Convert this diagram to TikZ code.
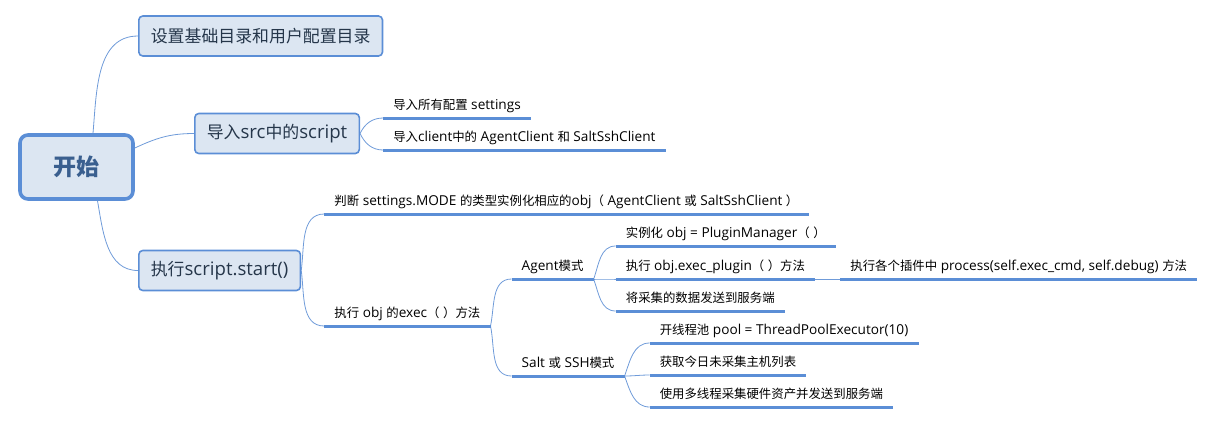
\documentclass[tikz,border=0pt]{standalone}
\usepackage{fontspec}
\setmainfont[Scale=1.1]{Open Sans}
\newfontfamily\cjkfam{Noto Sans CJK SC}
\XeTeXinterchartokenstate=1
\newXeTeXintercharclass\cjkclass
\def\markcjk#1{\ifx#1\relax\else\XeTeXcharclass`#1=\cjkclass\expandafter\markcjk\fi}
\markcjk 开始设置基础目录和用户配置导入中的执行判断类型实例化相应或所有模式将采集数据发送到服务端各个插件方法线程池获取今日未主机列表使多硬件资产并（）\relax
\XeTeXinterchartoks 0 \cjkclass = {\cjkfam}
\XeTeXinterchartoks 4095 \cjkclass = {\cjkfam}
\XeTeXinterchartoks \cjkclass 0 = {\rmfamily}
\XeTeXinterchartoks \cjkclass 4095 = {\rmfamily}
\RequirePackage{xcolor}
\definecolor{boxfill}{HTML}{DCE6F2}
\definecolor{boxline}{HTML}{5B8ED6}
\definecolor{linkline}{HTML}{6F9BD9}
\definecolor{roottext}{HTML}{3A5F8F}
\definecolor{boxtext}{HTML}{25364A}
\tikzset{
	topic/.style={draw=boxline, line width=1.6pt, fill=boxfill, rounded corners=4pt,
		minimum height=40pt, inner xsep=12pt, text=boxtext,
		font=\fontsize{16.9}{20}\selectfont, anchor=west},
	root/.style={topic, line width=3.6pt, rounded corners=8pt, minimum width=113pt,
		minimum height=64pt, text=roottext, font=\fontsize{23}{26}\selectfont\bfseries,
		anchor=center},
	leaf/.style={anchor=south west, inner xsep=10pt, inner ysep=4.5pt,
		text height=9.5pt, text depth=3.5pt, font=\fontsize{12.4}{14}\selectfont},
	link/.style={draw=linkline, line width=0.8pt},
	uline/.style={draw=boxline, line width=3pt}
}
\begin{document}
\begin{tikzpicture}[x=1pt, y=1pt]
	\useasboundingbox (0,0) rectangle (1222,-424);
	\node[root] (root) at (76.5,-167) {开始};
	\node[topic] (s1) at (138,-36) {设置基础目录和用户配置目录};
	\node[topic] (s2) at (194,-133.5) {导入src中的script};
	\node[topic] (s3) at (138,-270.5) {执行script.start()};

	\node[leaf] (src1) at ([shift={(23,15.5)}]s2.east) {导入所有配置 settings};
	\node[leaf] (src2) at ([shift={(23,-16.5)}]s2.east) {导入client中的 AgentClient 和 SaltSshClient};

	\node[leaf] (judge) at ([shift={(23,56.5)}]s3.east)
		{判断 settings.MODE 的类型实例化相应的obj（ AgentClient 或 SaltSshClient ）};
	\node[leaf] (exec) at ([shift={(23,-55.5)}]s3.east) {执行 obj 的exec（ ）方法};

	\node[leaf] (agent) at ([shift={(21,47)}]exec.south east) {Agent模式};
	\node[leaf] (salt) at ([shift={(21,-50)}]exec.south east) {Salt 或 SSH模式};

	\node[leaf] (a1) at ([shift={(22,33)}]agent.south east) {实例化 obj = PluginManager（ ）};
	\node[leaf] (a2) at ([shift={(22,0)}]agent.south east) {执行 obj.exec\_plugin（ ）方法};
	\node[leaf] (a3) at ([shift={(22,-32)}]agent.south east) {将采集的数据发送到服务端};
	\node[leaf] (a21) at ([shift={(25,0)}]a2.south east)
		{执行各个插件中 process(self.exec\_cmd, self.debug) 方法};

	\node[leaf] (b1) at ([shift={(25,33)}]salt.south east) {开线程池 pool = ThreadPoolExecutor(10)};
	\node[leaf] (b2) at ([shift={(25,1)}]salt.south east) {获取今日未采集主机列表};
	\node[leaf] (b3) at ([shift={(25,-31)}]salt.south east) {使用多线程采集硬件资产并发送到服务端};

	\draw[link] ([xshift=16.5pt]root.north) to[out=85, in=180] (s1.west);
	\draw[link] ([yshift=19pt]root.east) to[out=25, in=180] (s2.west);
	\draw[link] ([xshift=21pt]root.south) to[out=-80, in=180] (s3.west);

	\foreach \c/\o in {src1/65, src2/-65}
		\draw[link] (s2.east) to[out=\o, in=180] (\c.south west);
	\foreach \c/\o in {judge/82, exec/-82}
		\draw[link] (s3.east) to[out=\o, in=180] (\c.south west);
	\foreach \c/\o in {agent/78, salt/-78}
		\draw[link] (exec.south east) to[out=\o, in=180] (\c.south west);
	\foreach \c/\o in {a1/70, a2/0, a3/-70}
		\draw[link] (agent.south east) to[out=\o, in=180] (\c.south west);
	\foreach \c/\o in {b1/70, b2/0, b3/-70}
		\draw[link] (salt.south east) to[out=\o, in=180] (\c.south west);
	\draw[link] (a2.south east) -- (a21.south west);

	\foreach \n in {src1,src2,judge,exec,agent,salt,a1,a2,a3,a21,b1,b2,b3}
		\draw[uline] (\n.south west) -- (\n.south east);
\end{tikzpicture}
\end{document}
